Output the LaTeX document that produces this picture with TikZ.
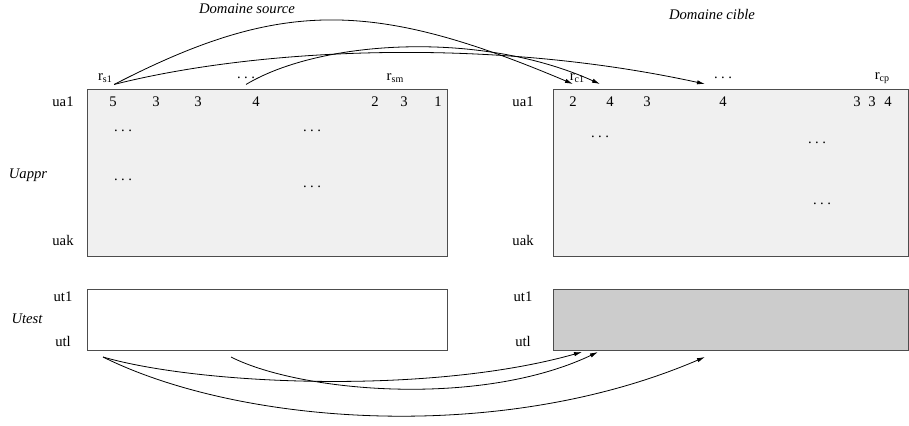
\documentclass[tikz,border=0pt]{standalone}
\usepackage{fontspec}
\setmainfont{Liberation Serif}
\usetikzlibrary{arrows.meta, positioning}
\definecolor{matrixfill}{HTML}{F0F0F0}
\definecolor{guessfill}{HTML}{CCCCCC}
\definecolor{boxline}{HTML}{4D4D4D}
\tikzstyle{matrixbox} = [rectangle, anchor=north west, inner sep=0pt, draw=boxline, line width=0.8pt, fill=matrixfill]
\tikzstyle{testbox} = [matrixbox, fill=white, minimum height=45.75pt]
\tikzstyle{txt} = [inner sep=1.5pt, font=\fontsize{11}{13}\selectfont]
\tikzstyle{title} = [txt, font=\fontsize{11}{13}\selectfont\itshape]
\tikzstyle{link} = [line width=0.6pt, -{Latex[length=6pt,width=3.2pt]}]
\newcommand{\rname}[1]{r\raisebox{-0.2ex}{\fontsize{7.5}{8}\selectfont #1}}
\newcommand{\gap}{.\hspace{2.6pt}.\hspace{2.6pt}.}

\begin{document}
\begin{tikzpicture}[x=0.75pt, y=-0.75pt]
    \useasboundingbox (0,0) rectangle (909,425);
    % the two rating matrices and the two test blocks
    \node[matrixbox, minimum width=270pt, minimum height=125pt] (srcmat) at (87,89) {};
    \node[matrixbox, minimum width=266.6pt, minimum height=125pt] (tgtmat) at (553,89) {};
    \node[testbox, minimum width=270pt] (srctest) at (87,289) {};
    \node[testbox, minimum width=266.6pt, fill=guessfill] (tgttest) at (553,289) {};

    \node[title] (srcdom) at (247,9) {Domaine source};
    \node[title] (tgtdom) at (712,14) {Domaine cible};
    \node[title] (uappr) at (28,175) {Uappr};
    \node[title] (utest) at (27,319) {Utest};

    % item labels
    \node[txt] (rs1) at (105,78) {\rname{s1}};
    \node[txt] (sdots) at (246,78) {\gap};
    \node[txt] (rsm) at (395,78) {\rname{sm}};
    \node[txt] (rc1) at (577,78) {\rname{c1}};
    \node[txt] (tdots) at (723,78) {\gap};
    \node[txt] (rcp) at (882,78) {\rname{cp}};

    % user labels
    \node[txt] (sua1) at (63,102) {ua1};
    \node[txt] (suak) at (63,240) {uak};
    \node[txt] (sut1) at (63,297) {ut1};
    \node[txt] (sutl) at (63,341) {utl};
    \node[txt] (tua1) at (523,102) {ua1};
    \node[txt] (tuak) at (523,240) {uak};
    \node[txt] (tut1) at (523,297) {ut1};
    \node[txt] (tutl) at (523,341) {utl};

    % ratings of ua1
    \node[txt] (s1) at (113,102) {5};
    \node[txt] (s2) at (156,102) {3};
    \node[txt] (s3) at (198,102) {3};
    \node[txt] (s4) at (256,102) {4};
    \node[txt] (s5) at (375,102) {2};
    \node[txt] (s6) at (404,102) {3};
    \node[txt] (s7) at (438,102) {1};
    \node[txt] (c1) at (573,102) {2};
    \node[txt] (c2) at (610,102) {4};
    \node[txt] (c3) at (647,102) {3};
    \node[txt] (c4) at (723,102) {4};
    \node[txt] (c5) at (857,102) {3};
    \node[txt] (c6) at (872,102) {3};
    \node[txt] (c7) at (888,102) {4};

    \node[txt] (sd1) at (123,131) {\gap};
    \node[txt] (sd2) at (312,131) {\gap};
    \node[txt] (sd3) at (123,180) {\gap};
    \node[txt] (sd4) at (312,187) {\gap};
    \node[txt] (td1) at (600,137) {\gap};
    \node[txt] (td2) at (817,143) {\gap};
    \node[txt] (td3) at (822,204) {\gap};

    % free ends of the transfer links
    \coordinate (ta) at (573,84);
    \coordinate (tb) at (600,84);
    \coordinate (tc) at (705,84);
    \coordinate (ua) at (103,357);
    \coordinate (ub) at (231,357);
    \coordinate (ba) at (582,352);
    \coordinate (bb) at (598,352);
    \coordinate (bc) at (705,357);

    \draw[link] (rs1.south east) .. controls (280,-1) and (372,-1) .. (ta);
    \draw[link] ([yshift=-2.5pt]sdots.south) .. controls (320,40) and (480,30) .. (tb);
    \draw[link] (rs1.south east) .. controls (250,50) and (480,35) .. (tc);
    \draw[link] (ua) .. controls (200,385) and (430,395) .. (ba);
    \draw[link] (ub) .. controls (300,392) and (480,408) .. (bb);
    \draw[link] (ua) .. controls (240,425) and (500,445) .. (bc);
\end{tikzpicture}
\end{document}
